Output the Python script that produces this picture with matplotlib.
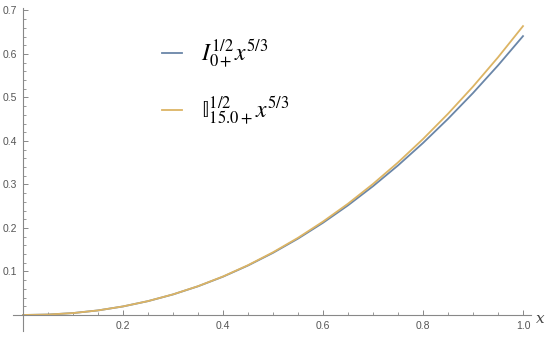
import matplotlib
matplotlib.use("Agg")
import matplotlib.pyplot as plt

x = [0.0, 0.05, 0.1, 0.15, 0.2, 0.25, 0.3, 0.35, 0.4, 0.45, 0.5,
     0.55, 0.6, 0.65, 0.7, 0.75, 0.8, 0.85, 0.9, 0.95, 1.0]
riemann = [0.0, 0.0010, 0.0044, 0.0105, 0.0196, 0.0318, 0.0472, 0.0659, 0.0880, 0.1137, 0.1428,
           0.1755, 0.2119, 0.2520, 0.2960, 0.3437, 0.3953, 0.4508, 0.5102, 0.5736, 0.641]
approx = [0.0, 0.0010, 0.0044, 0.0105, 0.0197, 0.0319, 0.0474, 0.0662, 0.0885, 0.1145, 0.1441,
          0.1774, 0.2147, 0.2558, 0.3012, 0.3506, 0.4044, 0.4625, 0.5250, 0.5922, 0.664]
labels = [r"$I_{0+}^{1/2}x^{5/3}$", r"$\mathrm{\mathbb{I}}_{15.0+}^{1/2}x^{5/3}$"]
xticks = [0.2, 0.4, 0.6, 0.8, 1.0]
yticks = [0.1, 0.2, 0.3, 0.4, 0.5, 0.6, 0.7]

plt.rcParams["mathtext.fontset"] = "stix"
plt.rcParams["font.family"] = "Liberation Sans"

fig = plt.figure(figsize=(5.5, 3.37), dpi=100)
ax = fig.add_axes([0, 0, 1, 1])
ax.set_xlim(-0.046, 1.054)
ax.set_ylim(-0.0506, 0.724)

ax.plot(x, riemann, color="#6a86a8", lw=1.3, label=labels[0])
ax.plot(x, approx, color="#dcb464", lw=1.3, label=labels[1])

for s in ["top", "right"]:
    ax.spines[s].set_visible(False)
ax.spines["left"].set_position(("data", 0))
ax.spines["bottom"].set_position(("data", 0))
ax.spines["left"].set_bounds(-0.036, 0.705)
ax.spines["bottom"].set_bounds(-0.02, 1.016)
for s in ["left", "bottom"]:
    ax.spines[s].set_color("#888888")
    ax.spines[s].set_linewidth(0.8)

ax.set_xticks(xticks)
ax.set_xticklabels([f"{v:.1f}" for v in xticks])
ax.set_yticks(yticks)
ax.set_yticklabels([f"{v:.1f}" for v in yticks])
ax.set_xticks([i * 0.05 for i in range(1, 21)], minor=True)
ax.set_yticks([i * 0.02 for i in range(1, 36)], minor=True)
ax.tick_params(which="both", direction="in", color="#888888", labelsize=7.5, labelcolor="#555555")
ax.tick_params(which="major", length=3.5, width=0.7)
ax.tick_params(which="minor", length=2, width=0.6)
ax.tick_params(axis="x", pad=4)
ax.tick_params(axis="y", pad=4)

ax.text(1.035, -0.01, "x", fontsize=11, style="italic", family="DejaVu Serif",
        color="#444444", ha="center", va="center")

ax.legend(loc="upper left", bbox_to_anchor=(0.256, 0.95), frameon=False,
          fontsize=17, handlelength=0.85, handletextpad=0.8, labelspacing=1.0)

fig.savefig("out.png", dpi=100)
